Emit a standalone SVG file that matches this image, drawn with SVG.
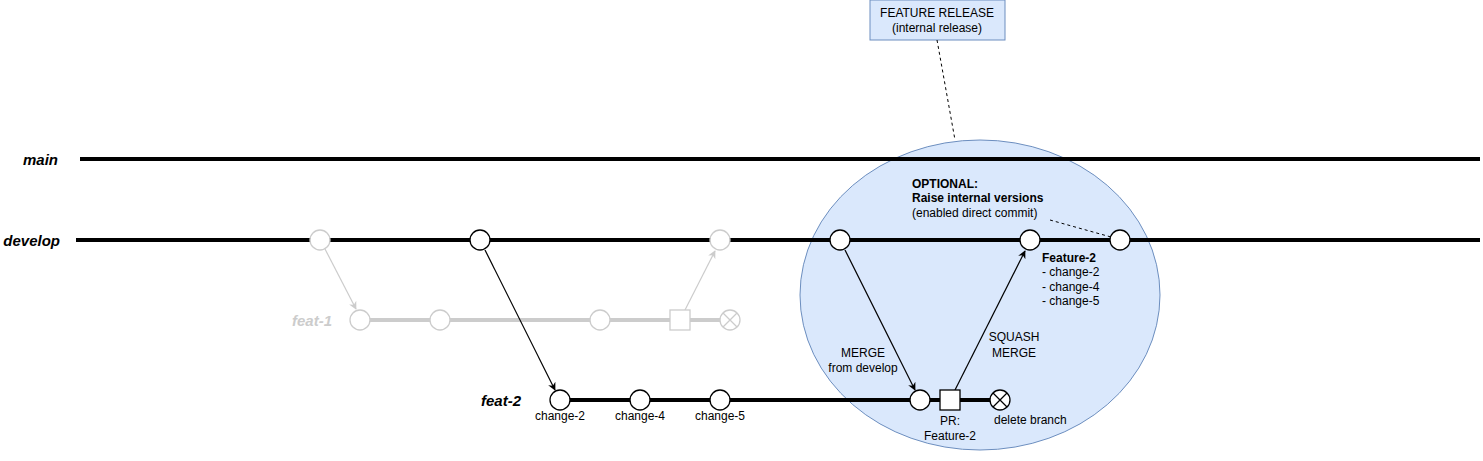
<svg xmlns="http://www.w3.org/2000/svg" width="1483" height="461" viewBox="0 0 1483 461">
<defs>
<style>
text{font-family:"Liberation Sans",Arial,sans-serif;font-size:12px;fill:#000}
.br{font-size:15px;font-weight:bold;font-style:italic;text-anchor:end}
.c{text-anchor:middle}
.b{font-weight:bold}
.line{stroke:#000;stroke-width:4;fill:none}
.gline{stroke:#ccc;stroke-width:4;fill:none}
.n{fill:#fff;stroke:#000;stroke-width:1.3}
.g{fill:#fff;stroke:#ccc;stroke-width:1.3}
.arr{stroke:#000;stroke-width:1.2;fill:none}
.garr{stroke:#ccc;stroke-width:1.2;fill:none}
.dash{stroke:#000;stroke-width:1;stroke-dasharray:3 3;fill:none}
</style>
<marker id="ah" viewBox="0 0 10 10" refX="9" refY="5" markerWidth="8" markerHeight="8" orient="auto" markerUnits="userSpaceOnUse"><path d="M0,0 L10,5 L0,10 L3,5 Z" fill="#000"/></marker>
<marker id="gah" viewBox="0 0 10 10" refX="9" refY="5" markerWidth="8" markerHeight="8" orient="auto" markerUnits="userSpaceOnUse"><path d="M0,0 L10,5 L0,10 L3,5 Z" fill="#ccc"/></marker>
</defs>
<g id="release-area">
<ellipse cx="980" cy="295" rx="180" ry="155" fill="#dae8fc" stroke="#6c8ebf" stroke-width="1"/>
</g>
<g id="feature-release">
<rect x="870" y="0" width="135" height="40" fill="#dae8fc" stroke="#6c8ebf" stroke-width="1"/>
<text x="937" y="17" class="c">FEATURE RELEASE</text>
<text x="937" y="32" class="c">(internal release)</text>
</g>
<g id="branches">
<line class="line" x1="80" y1="159" x2="1480" y2="159"/>
<line class="line" x1="76" y1="240" x2="1480" y2="240"/>
<line class="gline" x1="360" y1="320" x2="730" y2="320"/>
<line class="line" x1="560" y1="400" x2="1000" y2="400"/>
<text x="58" y="165" class="br">main</text>
<text x="60" y="246" class="br">develop</text>
<text x="332" y="326" class="br" style="fill:#ccc">feat-1</text>
<text x="521" y="406" class="br">feat-2</text>
</g>
<g id="connectors">
<line class="garr" x1="325" y1="249" x2="356" y2="309" marker-end="url(#gah)"/>
<line class="garr" x1="685" y1="310" x2="715" y2="251" marker-end="url(#gah)"/>
<line class="arr" x1="485" y1="250" x2="555" y2="390" marker-end="url(#ah)"/>
<line class="arr" x1="845" y1="250" x2="915" y2="390" marker-end="url(#ah)"/>
<line class="arr" x1="955" y1="390" x2="1025" y2="251" marker-end="url(#ah)"/>
<line class="dash" x1="937" y1="40" x2="955" y2="140"/>
<line class="dash" x1="1050" y1="220" x2="1111" y2="237"/>
</g>
<g id="develop-commits">
<circle class="g" cx="320" cy="240" r="10"/>
<circle class="n" cx="480" cy="240" r="10"/>
<circle class="g" cx="720" cy="240" r="10"/>
<circle class="n" cx="840" cy="240" r="10"/>
<circle class="n" cx="1030" cy="240" r="10"/>
<circle class="n" cx="1120" cy="240" r="10"/>
</g>
<g id="feat1-commits">
<circle class="g" cx="360" cy="320" r="10"/>
<circle class="g" cx="440" cy="320" r="10"/>
<circle class="g" cx="600" cy="320" r="10"/>
<rect class="g" x="670" y="310" width="20" height="20"/>
<circle class="g" cx="730" cy="320" r="10"/>
<path d="M723,313 L737,327 M737,313 L723,327" stroke="#ccc" stroke-width="1.3"/>
</g>
<g id="feat2-commits">
<circle class="n" cx="560" cy="400" r="10"/>
<circle class="n" cx="640" cy="400" r="10"/>
<circle class="n" cx="720" cy="400" r="10"/>
<circle class="n" cx="920" cy="400" r="10"/>
<rect class="n" x="940" y="390" width="20" height="20"/>
<circle class="n" cx="1000" cy="400" r="10"/>
<path d="M993,393 L1007,407 M1007,393 L993,407" stroke="#000" stroke-width="1.3"/>
<text x="560" y="420" class="c">change-2</text>
<text x="640" y="420" class="c">change-4</text>
<text x="720" y="420" class="c">change-5</text>
<text x="950" y="425" class="c">PR:</text>
<text x="950" y="440" class="c">Feature-2</text>
<text x="994" y="424">delete branch</text>
</g>
<g id="labels">
<text x="863" y="357" class="c">MERGE</text>
<text x="863" y="372" class="c">from develop</text>
<text x="1014" y="341" class="c">SQUASH</text>
<text x="1014" y="357" class="c">MERGE</text>
<text x="912" y="188" class="b">OPTIONAL:</text>
<text x="912" y="202" class="b">Raise internal versions</text>
<text x="912" y="217">(enabled direct commit)</text>
<text x="1042" y="262" class="b">Feature-2</text>
<text x="1042" y="276">- change-2</text>
<text x="1042" y="291">- change-4</text>
<text x="1042" y="305">- change-5</text>
</g>
</svg>
